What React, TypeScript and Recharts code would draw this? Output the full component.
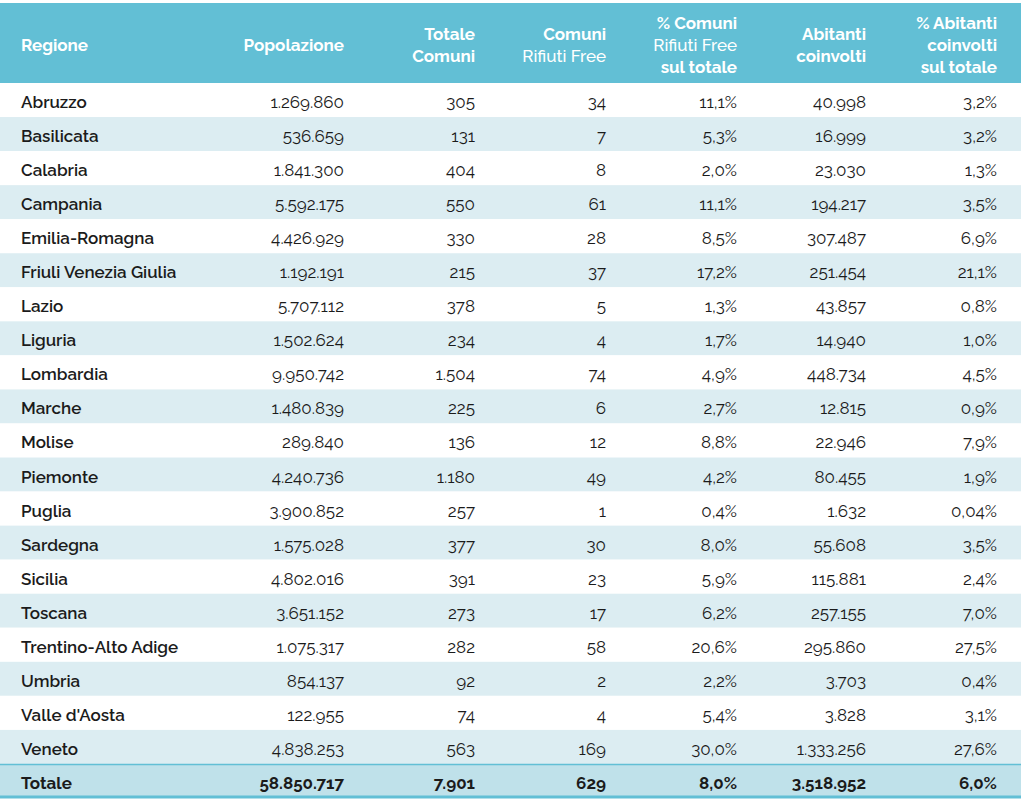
import { BarChart, Bar, XAxis, YAxis, LabelList, Customized } from 'recharts'

const regioni = [
  'Abruzzo', 'Basilicata', 'Calabria', 'Campania', 'Emilia-Romagna',
  'Friuli Venezia Giulia', 'Lazio', 'Liguria', 'Lombardia', 'Marche',
  'Molise', 'Piemonte', 'Puglia', 'Sardegna', 'Sicilia',
  'Toscana', 'Trentino-Alto Adige', 'Umbria', "Valle d'Aosta", 'Veneto', 'Totale',
]
const popolazione = [
  1269860, 536659, 1841300, 5592175, 4426929, 1192191, 5707112, 1502624, 9950742, 1480839,
  289840, 4240736, 3900852, 1575028, 4802016, 3651152, 1075317, 854137, 122955, 4838253, 58850717,
]
const totaleComuni = [
  305, 131, 404, 550, 330, 215, 378, 234, 1504, 225,
  136, 1180, 257, 377, 391, 273, 282, 92, 74, 563, 7901,
]
const comuniRF = [
  34, 7, 8, 61, 28, 37, 5, 4, 74, 6,
  12, 49, 1, 30, 23, 17, 58, 2, 4, 169, 629,
]
const pctComuni = [
  11.1, 5.3, 2.0, 11.1, 8.5, 17.2, 1.3, 1.7, 4.9, 2.7,
  8.8, 4.2, 0.4, 8.0, 5.9, 6.2, 20.6, 2.2, 5.4, 30.0, 8.0,
]
const abitanti = [
  40998, 16999, 23030, 194217, 307487, 251454, 43857, 14940, 448734, 12815,
  22946, 80455, 1632, 55608, 115881, 257155, 295860, 3703, 3828, 1333256, 3518952,
]
const pctAbitanti = [
  3.2, 3.2, 1.3, 3.5, 6.9, 21.1, 0.8, 1.0, 4.5, 0.9,
  7.9, 1.9, 0.04, 3.5, 2.4, 7.0, 27.5, 0.4, 3.1, 27.6, 6.0,
]
const intestazioni = [
  ['Regione'],
  ['Popolazione'],
  ['Totale', 'Comuni'],
  ['Comuni', 'Rifiuti Free'],
  ['% Comuni', 'Rifiuti Free', 'sul totale'],
  ['Abitanti', 'coinvolti'],
  ['% Abitanti', 'coinvolti', 'sul totale'],
]

const W = 1024
const H = 803
const HEAD_TOP = 3
const HEAD_BOTTOM = 83
const TABLE_RIGHT = 1021
const FONT = 'Raleway, Lato, sans-serif'
const TEAL = '#62bfd5'
const STRIPE = '#dcedf2'
const TOTAL_BG = '#bfe1ea'

// x of each column (left edge for the first, right edge for the others)
const colX = [21, 344, 475, 606, 737, 866, 997]

const fmtInt = (v: number) => String(v).replace(/\B(?=(\d{3})+(?!\d))/g, '.')
const fmtPct = (v: number) => (v < 0.1 ? v.toFixed(2) : v.toFixed(1)).replace('.', ',') + '%'

const data = regioni.map((r, i) => ({
  regione: r,
  band: 1,
  popolazione: fmtInt(popolazione[i]),
  totaleComuni: fmtInt(totaleComuni[i]),
  comuniRF: fmtInt(comuniRF[i]),
  pctComuni: fmtPct(pctComuni[i]),
  abitanti: fmtInt(abitanti[i]),
  pctAbitanti: fmtPct(pctAbitanti[i]),
}))
const lastIdx = data.length - 1
const keys = ['regione', 'popolazione', 'totaleComuni', 'comuniRF', 'pctComuni', 'abitanti', 'pctAbitanti']

function RowShape(props: any) {
  const { x, y, width, height, index } = props
  const fill = index === lastIdx ? TOTAL_BG : index % 2 === 1 ? STRIPE : '#ffffff'
  return (
    <g>
      <rect x={x} y={y} width={width} height={height} fill={fill} />
      {index === lastIdx && (
        <>
          <line x1={x} x2={x + width} y1={y + 0.5} y2={y + 0.5} stroke={TEAL} strokeWidth={1.5} />
          <line x1={x} x2={x + width} y1={y + height - 1} y2={y + height - 1} stroke={TEAL} strokeWidth={3} />
        </>
      )}
    </g>
  )
}

function cellLabel(col: number) {
  return (props: any) => {
    const { y, height, value, index } = props
    const isTotal = index === lastIdx
    const first = col === 0
    return (
      <text
        x={colX[col]}
        y={y + height / 2 + 2}
        dominantBaseline="central"
        textAnchor={first ? 'start' : 'end'}
        fontFamily={FONT}
        fontSize={17}
        fontWeight={isTotal ? 700 : first ? 600 : 400}
        fill="#1b1b1b"
      >
        {value}
      </text>
    )
  }
}

function Header() {
  return (
    <g>
      <rect x={0} y={HEAD_TOP} width={TABLE_RIGHT} height={HEAD_BOTTOM - HEAD_TOP} fill={TEAL} />
      {intestazioni.map((lines, c) =>
        lines.map((t, j) => (
          <text
            key={`${c}-${j}`}
            x={colX[c]}
            y={45 + (j - (lines.length - 1) / 2) * 22}
            dominantBaseline="central"
            textAnchor={c === 0 ? 'start' : 'end'}
            fontFamily={FONT}
            fontSize={17}
            fontWeight={t === 'Rifiuti Free' ? 500 : 700}
            fill="#ffffff"
          >
            {t}
          </text>
        )),
      )}
    </g>
  )
}

export default function App() {
  return (
    <div style={{ position: 'absolute', left: 0, top: 0, width: W, height: H, background: '#fff' }}>
      <BarChart
        width={W}
        height={H}
        data={data}
        layout="vertical"
        margin={{ top: HEAD_BOTTOM, right: W - TABLE_RIGHT, bottom: 5, left: 0 }}
        barCategoryGap={0}
      >
        <XAxis type="number" domain={[0, 1]} hide />
        <YAxis type="category" dataKey="regione" hide />
        <Bar dataKey="band" shape={RowShape} isAnimationActive={false}>
          {keys.map((k, c) => (
            <LabelList key={k} dataKey={k} content={cellLabel(c)} />
          ))}
        </Bar>
        <Customized component={Header} />
      </BarChart>
    </div>
  )
}
